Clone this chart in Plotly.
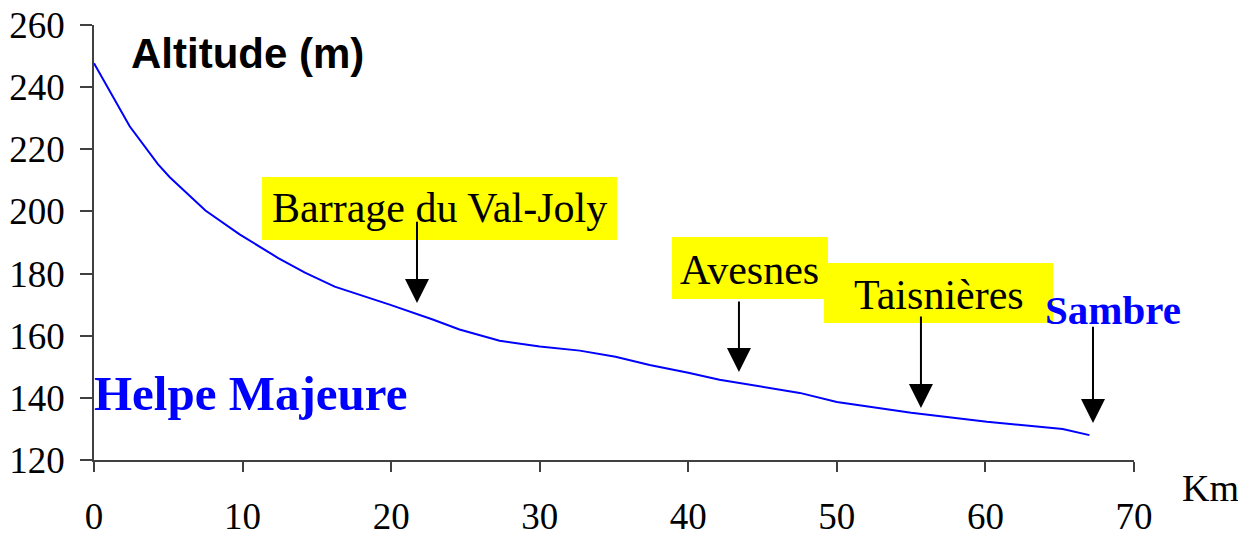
import plotly.graph_objects as go

# Data
km = [0, 2.4, 4.3, 5.1, 7.5, 9.8, 12.4, 14.2, 16.2, 19.9, 22.8, 24.6, 27.3, 30.0,
      32.7, 35.1, 37.4, 40.0, 42.1, 46.2, 47.5, 50.0, 55.0, 60.1, 65.2, 67.0]
altitude = [247.7, 227.4, 215.2, 211.0, 200.3, 192.6, 185.0, 180.3, 175.8, 170.0,
            165.2, 162.0, 158.4, 156.5, 155.2, 153.2, 150.6, 148.1, 145.8, 142.6,
            141.6, 138.7, 135.2, 132.3, 130.0, 128.0]
y_ticks = [120, 140, 160, 180, 200, 220, 240, 260]
x_ticks = [0, 10, 20, 30, 40, 50, 60, 70]

# Labelled places: (label, box x0, x1, y0, y1, text x, text y, arrow x, arrow tail y, arrow tip y)
places = [
    ("Barrage du Val-Joly", 11.31, 35.2, 190.8, 211.1, 23.25, 201.0, 21.74, 197.2, 170.5),
    ("Avesnes", 38.9, 49.4, 171.8, 191.8, 44.15, 181.2, 43.41, 171.5, 148.3),
    ("Taisnières", 49.13, 64.55, 164.1, 183.4, 56.88, 173.1, 55.66, 166.7, 136.7),
]
sambre = ("Sambre", 68.6, 168.3, 67.24, 163.4, 131.9)

AXIS_COLOR = "#404040"
SERIF = "Liberation Serif, Times New Roman, serif"
SANS = "Liberation Sans, Arial, sans-serif"

fig = go.Figure()
fig.add_trace(go.Scatter(x=km, y=altitude, mode="lines",
                         line=dict(color="#0000FF", width=2), showlegend=False,
                         hoverinfo="skip"))

shapes = []
annotations = []
for label, bx0, bx1, by0, by1, tx, ty, axx, tail, tip in places:
    shapes.append(dict(type="rect", xref="x", yref="y", x0=bx0, x1=bx1, y0=by0, y1=by1,
                       fillcolor="#FFFF00", line=dict(width=0), layer="above"))
    annotations.append(dict(x=tx, y=ty, xref="x", yref="y", text=label, showarrow=False,
                            font=dict(family=SERIF, size=42, color="black"),
                            xanchor="center", yanchor="middle"))
for label, bx0, bx1, by0, by1, tx, ty, axx, tail, tip in places:
    annotations.append(dict(x=axx, y=tip, ax=axx, ay=tail, xref="x", yref="y",
                            axref="x", ayref="y", text="", showarrow=True,
                            arrowhead=2, arrowsize=2.4, arrowwidth=2, arrowcolor="black"))

s_label, s_tx, s_ty, s_ax, s_tail, s_tip = sambre
annotations.append(dict(x=s_tx, y=s_ty, xref="x", yref="y", text="<b>" + s_label + "</b>",
                        showarrow=False, font=dict(family=SERIF, size=41, color="#0000FF"),
                        xanchor="center", yanchor="middle"))
annotations.append(dict(x=s_ax, y=s_tip, ax=s_ax, ay=s_tail, xref="x", yref="y",
                        axref="x", ayref="y", text="", showarrow=True,
                        arrowhead=2, arrowsize=2.4, arrowwidth=2, arrowcolor="black"))

annotations.append(dict(x=10.5, y=141.3, xref="x", yref="y", text="<b>Helpe Majeure</b>",
                        showarrow=False, font=dict(family=SERIF, size=49, color="#0000FF"),
                        xanchor="center", yanchor="middle"))
annotations.append(dict(x=10.3, y=250.8, xref="x", yref="y", text="<b>Altitude (m)</b>",
                        showarrow=False, font=dict(family=SANS, size=42, color="black"),
                        xanchor="center", yanchor="middle"))
# "Km" sits outside the plotting area, so it is placed in paper coordinates
annotations.append(dict(x=75.18 / 70, y=(111.0 - 120) / 140, xref="paper", yref="paper",
                        text="Km", showarrow=False,
                        font=dict(family=SERIF, size=38, color="black"),
                        xanchor="center", yanchor="middle"))

fig.update_layout(
    width=1238, height=527, autosize=False,
    margin=dict(l=86, r=112, t=17, b=75, pad=0),
    plot_bgcolor="white", paper_bgcolor="white",
    shapes=shapes, annotations=annotations,
    xaxis=dict(range=[0, 70], tickvals=x_ticks, ticktext=[str(v) for v in x_ticks],
               showgrid=False, zeroline=False, showline=True, linecolor=AXIS_COLOR,
               linewidth=1.5, ticks="outside", ticklen=10, tickwidth=1.5,
               tickcolor=AXIS_COLOR, ticklabelstandoff=13, automargin=False,
               ticklabeloverflow="allow",
               tickfont=dict(family=SERIF, size=37, color="black")),
    yaxis=dict(range=[120, 260], tickvals=y_ticks, ticktext=[str(v) for v in y_ticks],
               showgrid=False, zeroline=False, showline=True, linecolor=AXIS_COLOR,
               linewidth=1.5, ticks="outside", ticklen=12, tickwidth=1.5,
               tickcolor=AXIS_COLOR, ticklabelstandoff=8, automargin=False,
               ticklabeloverflow="allow",
               tickfont=dict(family=SERIF, size=37, color="black")),
)

fig.write_html("out.html")
